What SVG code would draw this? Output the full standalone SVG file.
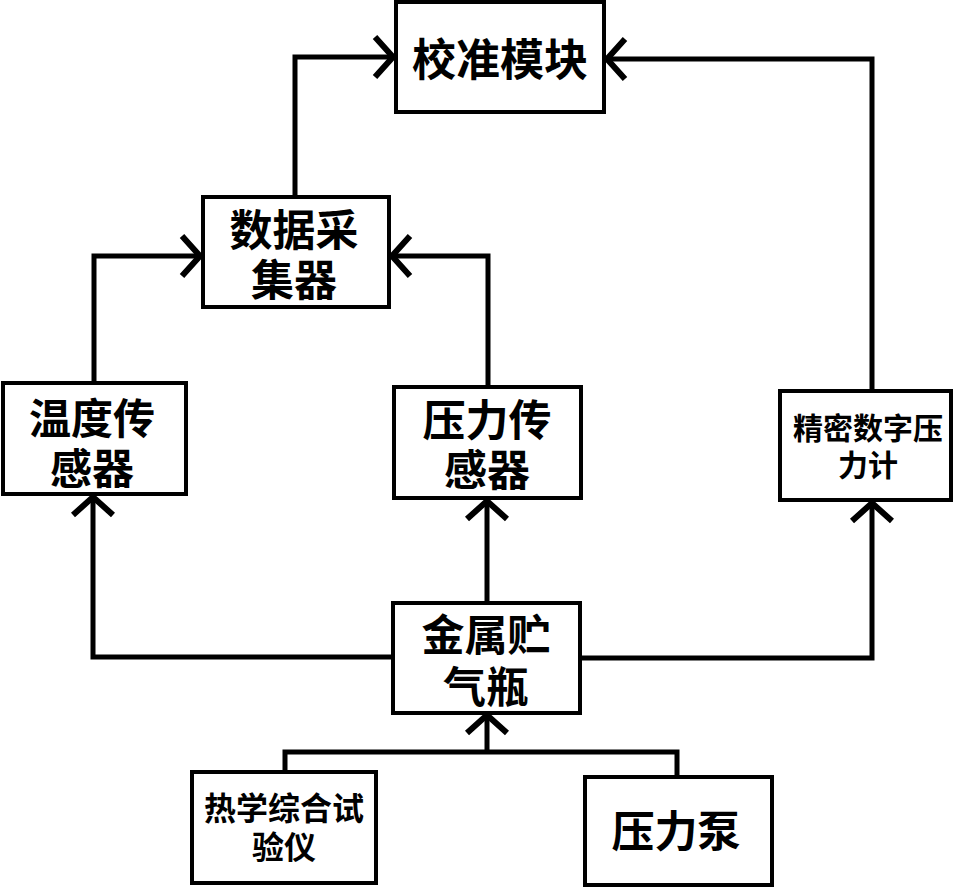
<svg xmlns="http://www.w3.org/2000/svg" width="965" height="890" viewBox="0 0 965 890">
<style>
.box{fill:#fff;stroke:#000;stroke-width:4}
.t{font-family:"Noto Sans CJK SC","Noto Sans CJK JP",sans-serif;font-weight:bold;fill:#000;text-anchor:middle;dominant-baseline:central}
.c{fill:none;stroke:#000;stroke-width:5;stroke-linejoin:miter}
</style>
<defs>
<marker id="ah" markerUnits="userSpaceOnUse" viewBox="-30 -30 40 60" refX="0" refY="0" markerWidth="40" markerHeight="60" orient="auto">
<path d="M-18,-20 L0,0 L-18,20" fill="none" stroke="#000" stroke-width="6"/>
</marker>
</defs>
<rect width="965" height="890" fill="#fff"/>
<g id="connectors">
<path class="c" d="M295,197 V57 H393" marker-end="url(#ah)"/>
<path class="c" d="M872,391 V59 H607" marker-end="url(#ah)"/>
<path class="c" d="M94,383 V256 H200" marker-end="url(#ah)"/>
<path class="c" d="M488,387 V256 H392" marker-end="url(#ah)"/>
<path class="c" d="M393,657 H93 V497" marker-end="url(#ah)"/>
<path class="c" d="M487,603 V501" marker-end="url(#ah)"/>
<path class="c" d="M580,658 H872 V503" marker-end="url(#ah)"/>
<path class="c" d="M285,772 V752 H677 V777"/>
<path class="c" d="M487,752 V715" marker-end="url(#ah)"/>
</g>
<g id="calib">
<rect class="box" x="396" y="2" width="208" height="110"/>
<text class="t" x="500" y="57" font-size="44">校准模块</text>
</g>
<g id="daq">
<rect class="box" x="203" y="197" width="186" height="110"/>
<text class="t" font-size="43"><tspan x="294" y="227">数据采</tspan><tspan x="294" y="277">集器</tspan></text>
</g>
<g id="temp">
<rect class="box" x="3" y="383" width="183" height="111"/>
<text class="t" font-size="42"><tspan x="92" y="415">温度传</tspan><tspan x="92" y="465">感器</tspan></text>
</g>
<g id="psensor">
<rect class="box" x="394" y="387" width="187" height="111"/>
<text class="t" font-size="43"><tspan x="487" y="417">压力传</tspan><tspan x="487" y="467">感器</tspan></text>
</g>
<g id="gauge">
<rect class="box" x="780" y="391" width="171" height="109"/>
<text class="t" font-size="30"><tspan x="868" y="426">精密数字压</tspan><tspan x="868" y="463">力计</tspan></text>
</g>
<g id="bottle">
<rect class="box" x="393" y="603" width="187" height="110"/>
<text class="t" font-size="43"><tspan x="486" y="632">金属贮</tspan><tspan x="486" y="684">气瓶</tspan></text>
</g>
<g id="thermo">
<rect class="box" x="192" y="772" width="184" height="111"/>
<text class="t" font-size="32"><tspan x="284" y="806">热学综合试</tspan><tspan x="284" y="845">验仪</tspan></text>
</g>
<g id="pump">
<rect class="box" x="585" y="777" width="187" height="108"/>
<text class="t" x="676" y="828" font-size="43">压力泵</text>
</g>
</svg>
